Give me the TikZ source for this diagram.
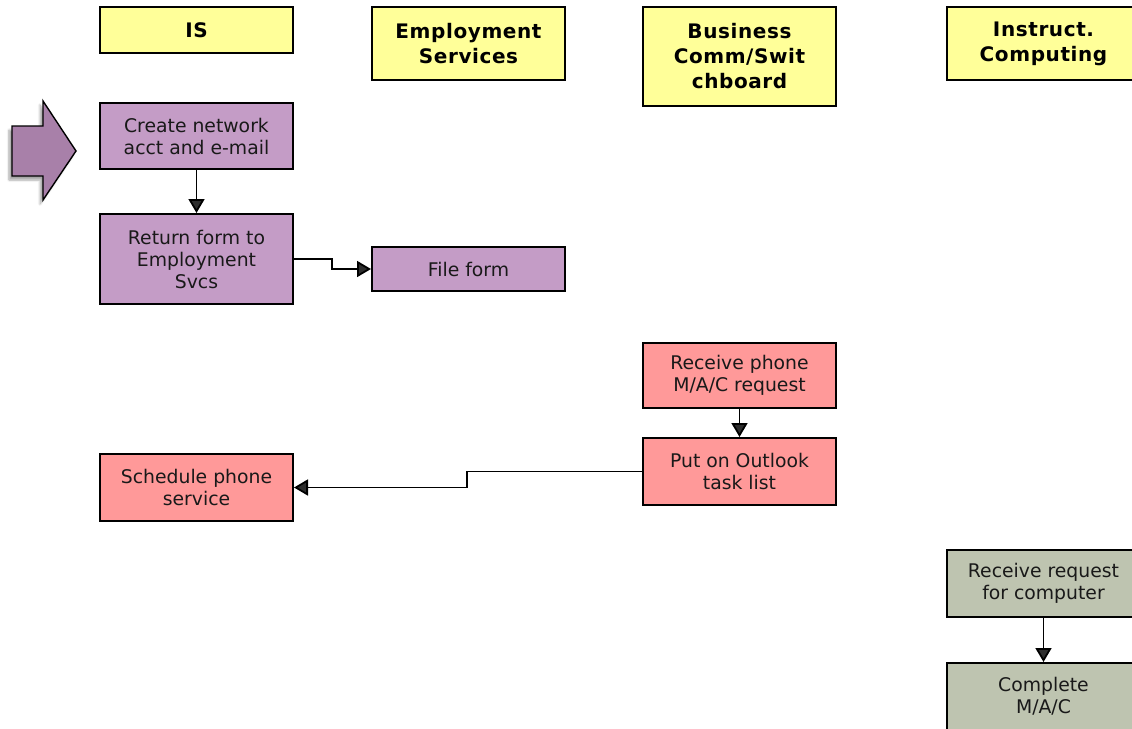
\documentclass[tikz,border=0pt]{standalone}
\usepackage{fontspec}
\setmainfont{DejaVu Sans}
\usetikzlibrary{arrows.meta,shadows.blur}

\definecolor{hdrfill}{RGB}{255,255,153}
\definecolor{plum}{RGB}{196,156,198}
\definecolor{plumdark}{RGB}{168,128,169}
\definecolor{rose}{RGB}{255,153,153}
\definecolor{sage}{RGB}{190,196,176}
\definecolor{boxtext}{RGB}{25,25,25}

\tikzset{
  x=1pt, y=-1pt,
  lanehead/.style={draw=black, line width=2pt, fill=hdrfill, align=center,
    font=\fontsize{20}{25}\selectfont\bfseries\addfontfeature{LetterSpace=3},
    inner sep=0pt, minimum width=193pt},
  task/.style={draw=black, line width=2pt, align=center, text=boxtext,
    font=\fontsize{18.8}{22}\selectfont, inner sep=0pt, minimum width=193pt},
  flow/.style={line width=1.8pt, -{Triangle[length=14pt,width=16pt]}},
}

\begin{document}
\begin{tikzpicture}
\useasboundingbox (0,0) rectangle (1132,728);
\clip (0,0) rectangle (1132,728);

% lane headers
\node[lanehead, minimum height=46pt] (hIS) at (196.5,30) {IS};
\node[lanehead, minimum height=73pt] (hES) at (468.5,43.5) {Employment\\Services};
\node[lanehead, minimum height=99pt] (hBC) at (739.5,56.5) {Business\\Comm/Swit\\chboard};
\node[lanehead, minimum height=73pt] (hIC) at (1043.5,43.5) {Instruct.\\Computing};

% entry arrow
\path[draw=black, line width=1.4pt, fill=plumdark,
      blur shadow={shadow xshift=-3pt, shadow yshift=-4pt, shadow opacity=35, shadow blur steps=6}]
  (12,126) -- (43,126) -- (43,101) -- (76,151) -- (43,200) -- (43,176) -- (12,176) -- cycle;

% IS / Employment Services tasks
\node[task, fill=plum, minimum height=66pt] (create) at (196.5,136) {Create network\\acct and e-mail};
\node[task, fill=plum, minimum height=90pt] (ret) at (196.5,259) {Return form to\\Employment\\Svcs};
\node[task, fill=plum, minimum height=44pt] (file) at (468.5,269) {File form};

% phone requests
\node[task, fill=rose, minimum height=65pt] (rphone) at (739.5,375.5) {Receive phone\\M/A/C request};
\node[task, fill=rose, minimum height=67pt] (outlook) at (739.5,471.5) {Put on Outlook\\task list};
\node[task, fill=rose, minimum height=67pt] (sched) at (196.5,487.5) {Schedule phone\\service};

% computer requests
\node[task, fill=sage, minimum height=67pt] (rcomp) at (1043.5,583.5) {Receive request\\for computer};
\node[task, fill=sage, minimum height=67pt] (done) at (1043.5,696.5) {Complete\\M/A/C};

% connectors
\draw[flow] (create.south) -- (ret.north);
\draw[flow] (ret.east) -- ++(38,0) |- (file.west);
\draw[flow] (rphone.south) -- (outlook.north);
\draw[flow] (outlook.west) -- ++(-175,0) |- (sched.east);
\draw[flow] (rcomp.south) -- (done.north);
\end{tikzpicture}
\end{document}
